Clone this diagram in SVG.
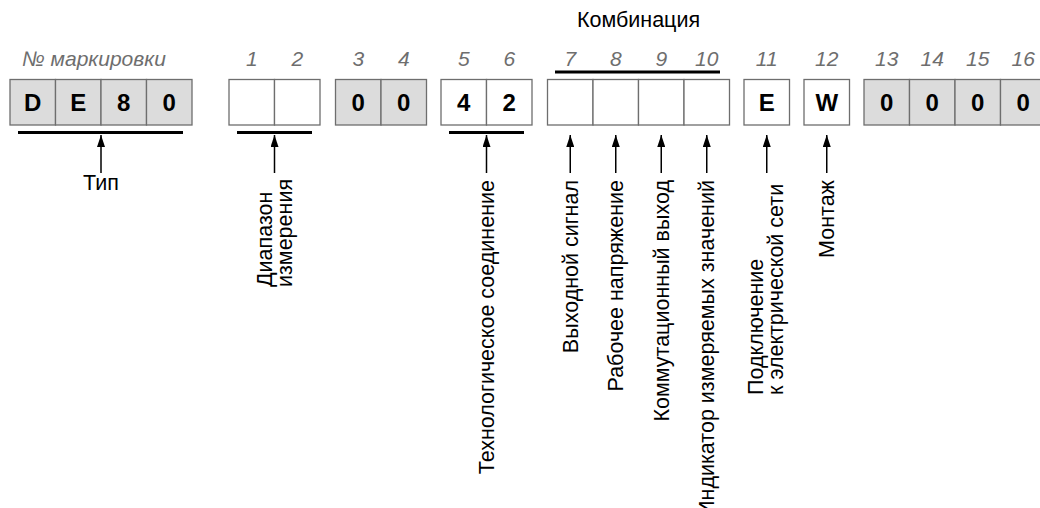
<svg xmlns="http://www.w3.org/2000/svg" width="1040" height="508" viewBox="0 0 1040 508">
<style>
  .g{fill:#dcdcdc;stroke:#6e6e6e;stroke-width:1.3}
  .w{fill:#fff;stroke:#6e6e6e;stroke-width:1.3}
  .v{font-family:"Liberation Sans",Arial,sans-serif;font-size:24px;font-weight:bold;fill:#000;text-anchor:middle}
  .n{font-family:"Liberation Sans",Arial,sans-serif;font-size:21px;font-style:italic;fill:#6e6e6e;text-anchor:middle}
  .t{font-family:"Liberation Sans",Arial,sans-serif;font-size:21.5px;fill:#000}
  .ul{stroke:#000;stroke-width:3}
  .ar{stroke:#000;stroke-width:1.5;fill:none}
</style>
<defs>
  <marker id="ah" markerUnits="userSpaceOnUse" viewBox="0 0 12 8" refX="12" refY="4" markerWidth="12" markerHeight="8" orient="auto">
    <path d="M0,0 L12,4 L0,8 z" fill="#000"/>
  </marker>
</defs>

<g id="header">
  <text class="n" x="22" y="66" style="text-anchor:start">№ маркировки</text>
  <text class="t" x="638.5" y="27" text-anchor="middle">Комбинация</text>
  <line class="ul" x1="555" y1="72" x2="720" y2="72"/>
  <text class="n" x="251.75" y="66">1</text>
  <text class="n" x="297.25" y="66">2</text>
  <text class="n" x="358.25" y="66">3</text>
  <text class="n" x="403.75" y="66">4</text>
  <text class="n" x="463.75" y="66">5</text>
  <text class="n" x="509.25" y="66">6</text>
  <text class="n" x="570.25" y="66">7</text>
  <text class="n" x="615.75" y="66">8</text>
  <text class="n" x="661.25" y="66">9</text>
  <text class="n" x="706.75" y="66">10</text>
  <text class="n" x="766.75" y="66">11</text>
  <text class="n" x="826.75" y="66">12</text>
  <text class="n" x="886.75" y="66">13</text>
  <text class="n" x="932.25" y="66">14</text>
  <text class="n" x="977.75" y="66">15</text>
  <text class="n" x="1023.25" y="66">16</text>
</g>

<g id="node-type">
  <rect class="g" x="10" y="79.5" width="45.5" height="45.5"/>
  <rect class="g" x="55.5" y="79.5" width="45.5" height="45.5"/>
  <rect class="g" x="101" y="79.5" width="45.5" height="45.5"/>
  <rect class="g" x="146.5" y="79.5" width="45.5" height="45.5"/>
  <text class="v" x="32.75" y="111">D</text>
  <text class="v" x="78.25" y="111">E</text>
  <text class="v" x="123.75" y="111">8</text>
  <text class="v" x="169.25" y="111">0</text>
  <line class="ul" x1="18" y1="132.5" x2="183" y2="132.5"/>
  <text class="t" x="101" y="190" text-anchor="middle">Тип</text>
</g>

<g id="node-range">
  <rect class="w" x="229" y="79.5" width="45.5" height="45.5"/>
  <rect class="w" x="274.5" y="79.5" width="45.5" height="45.5"/>
  <line class="ul" x1="237" y1="132.5" x2="312" y2="132.5"/>
  <text class="t" transform="translate(272,287) rotate(-90)"><tspan x="0" y="0">Диапазон</tspan><tspan x="0" y="20">измерения</tspan></text>
</g>

<g id="node-34">
  <rect class="g" x="335.5" y="79.5" width="45.5" height="45.5"/>
  <rect class="g" x="381" y="79.5" width="45.5" height="45.5"/>
  <text class="v" x="358.25" y="111">0</text>
  <text class="v" x="403.75" y="111">0</text>
</g>

<g id="node-process">
  <rect class="w" x="441" y="79.5" width="45.5" height="45.5"/>
  <rect class="w" x="486.5" y="79.5" width="45.5" height="45.5"/>
  <text class="v" x="463.75" y="111">4</text>
  <text class="v" x="509.25" y="111">2</text>
  <line class="ul" x1="449" y1="132.5" x2="524" y2="132.5"/>
  <text class="t" transform="translate(494,180) rotate(-90)" text-anchor="end">Технологическое соединение</text>
</g>

<g id="node-combination">
  <rect class="w" x="547.5" y="79.5" width="45.5" height="45.5"/>
  <rect class="w" x="593" y="79.5" width="45.5" height="45.5"/>
  <rect class="w" x="638.5" y="79.5" width="45.5" height="45.5"/>
  <rect class="w" x="684" y="79.5" width="45.5" height="45.5"/>
  <text class="t" transform="translate(577.75,180) rotate(-90)" text-anchor="end">Выходной сигнал</text>
  <text class="t" transform="translate(623.25,180) rotate(-90)" text-anchor="end">Рабочее напряжение</text>
  <text class="t" transform="translate(668.75,180) rotate(-90)" text-anchor="end">Коммутационный выход</text>
  <text class="t" transform="translate(714.25,180) rotate(-90)" text-anchor="end">Индикатор измеряемых значений</text>
</g>

<g id="node-electrical">
  <rect class="w" x="744" y="79.5" width="45.5" height="45.5"/>
  <text class="v" x="766.75" y="111">E</text>
  <text class="t" transform="translate(763,395) rotate(-90)"><tspan x="0" y="0">Подключение</tspan><tspan x="0" y="20">к электрической сети</tspan></text>
</g>

<g id="node-mounting">
  <rect class="w" x="804" y="79.5" width="45.5" height="45.5"/>
  <text class="v" x="826.75" y="111">W</text>
  <text class="t" transform="translate(834.25,180) rotate(-90)" text-anchor="end">Монтаж</text>
</g>

<g id="node-1316">
  <rect class="g" x="864" y="79.5" width="45.5" height="45.5"/>
  <rect class="g" x="909.5" y="79.5" width="45.5" height="45.5"/>
  <rect class="g" x="955" y="79.5" width="45.5" height="45.5"/>
  <rect class="g" x="1000.5" y="79.5" width="45.5" height="45.5"/>
  <text class="v" x="886.75" y="111">0</text>
  <text class="v" x="932.25" y="111">0</text>
  <text class="v" x="977.75" y="111">0</text>
  <text class="v" x="1023.25" y="111">0</text>
</g>

<g id="connectors">
  <line class="ar" x1="101" y1="173" x2="101" y2="135" marker-end="url(#ah)"/>
  <line class="ar" x1="274.5" y1="173" x2="274.5" y2="135" marker-end="url(#ah)"/>
  <line class="ar" x1="486.5" y1="173" x2="486.5" y2="135" marker-end="url(#ah)"/>
  <line class="ar" x1="570.25" y1="173" x2="570.25" y2="135" marker-end="url(#ah)"/>
  <line class="ar" x1="615.75" y1="173" x2="615.75" y2="135" marker-end="url(#ah)"/>
  <line class="ar" x1="661.25" y1="173" x2="661.25" y2="135" marker-end="url(#ah)"/>
  <line class="ar" x1="706.75" y1="173" x2="706.75" y2="135" marker-end="url(#ah)"/>
  <line class="ar" x1="766.75" y1="173" x2="766.75" y2="135" marker-end="url(#ah)"/>
  <line class="ar" x1="826.75" y1="173" x2="826.75" y2="135" marker-end="url(#ah)"/>
</g>
</svg>
